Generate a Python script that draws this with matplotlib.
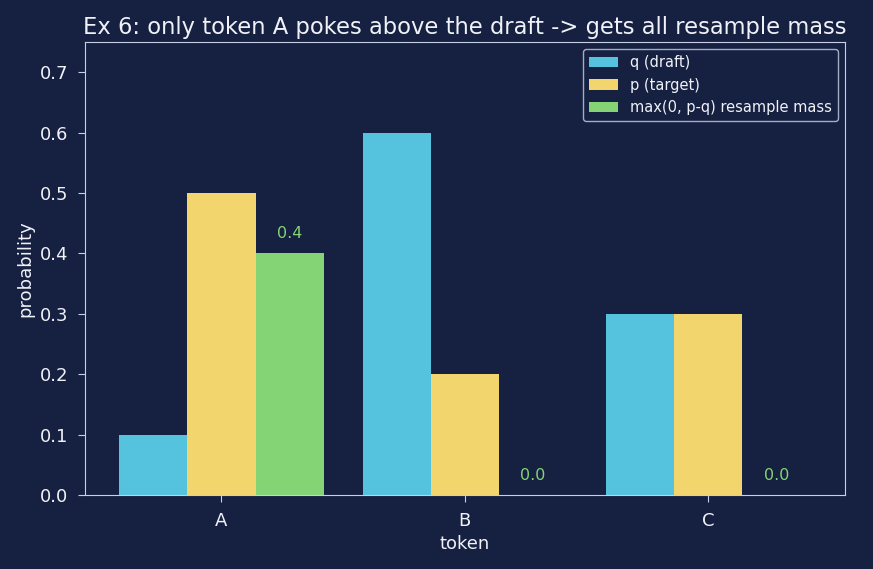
import numpy as np
import matplotlib
matplotlib.use("Agg")
import matplotlib.pyplot as plt

tokens = ["A", "B", "C"]
q_draft = [0.1, 0.6, 0.3]
p_target = [0.5, 0.2, 0.3]
resample = [0.4, 0.0, 0.0]

bg = "#162040"
fg = "#f0f2f8"
edge = "#c8d0e8"

plt.rcParams["font.family"] = "DejaVu Sans"
fig, ax = plt.subplots(figsize=(8.73, 5.69), dpi=100)
fig.patch.set_facecolor(bg)
ax.set_facecolor(bg)

x = np.arange(len(tokens))
w = 0.28
ax.bar(x - w, q_draft, w, color="#56c3de", label="q (draft)")
ax.bar(x, p_target, w, color="#f2d56c", label="p (target)")
ax.bar(x + w, resample, w, color="#84d374", label="max(0, p-q) resample mass")

# подписи над зелёными столбиками
for xi, r in zip(x, resample):
    ax.text(xi + w, r + 0.02, f"{r:.1f}", ha="center", va="bottom", color="#84d374", fontsize=11.5)

ax.set_xticks(x)
ax.set_xticklabels(tokens)
ax.set_ylim(0, 0.75)
ax.set_xlabel("token", color=fg, fontsize=13)
ax.set_ylabel("probability", color=fg, fontsize=13)
ax.set_title("Ex 6: only token A pokes above the draft -> gets all resample mass", color=fg, fontsize=16.3)
ax.tick_params(colors=edge, labelcolor=fg, labelsize=13, length=5, pad=7)
for s in ax.spines.values():
    s.set_color(edge)

ax.legend(loc="upper right", fontsize=10.5, facecolor=bg, edgecolor=edge, labelcolor=fg)

plt.subplots_adjust(left=0.097, right=0.968, top=0.926, bottom=0.13)
plt.savefig("out.png", facecolor=bg)
